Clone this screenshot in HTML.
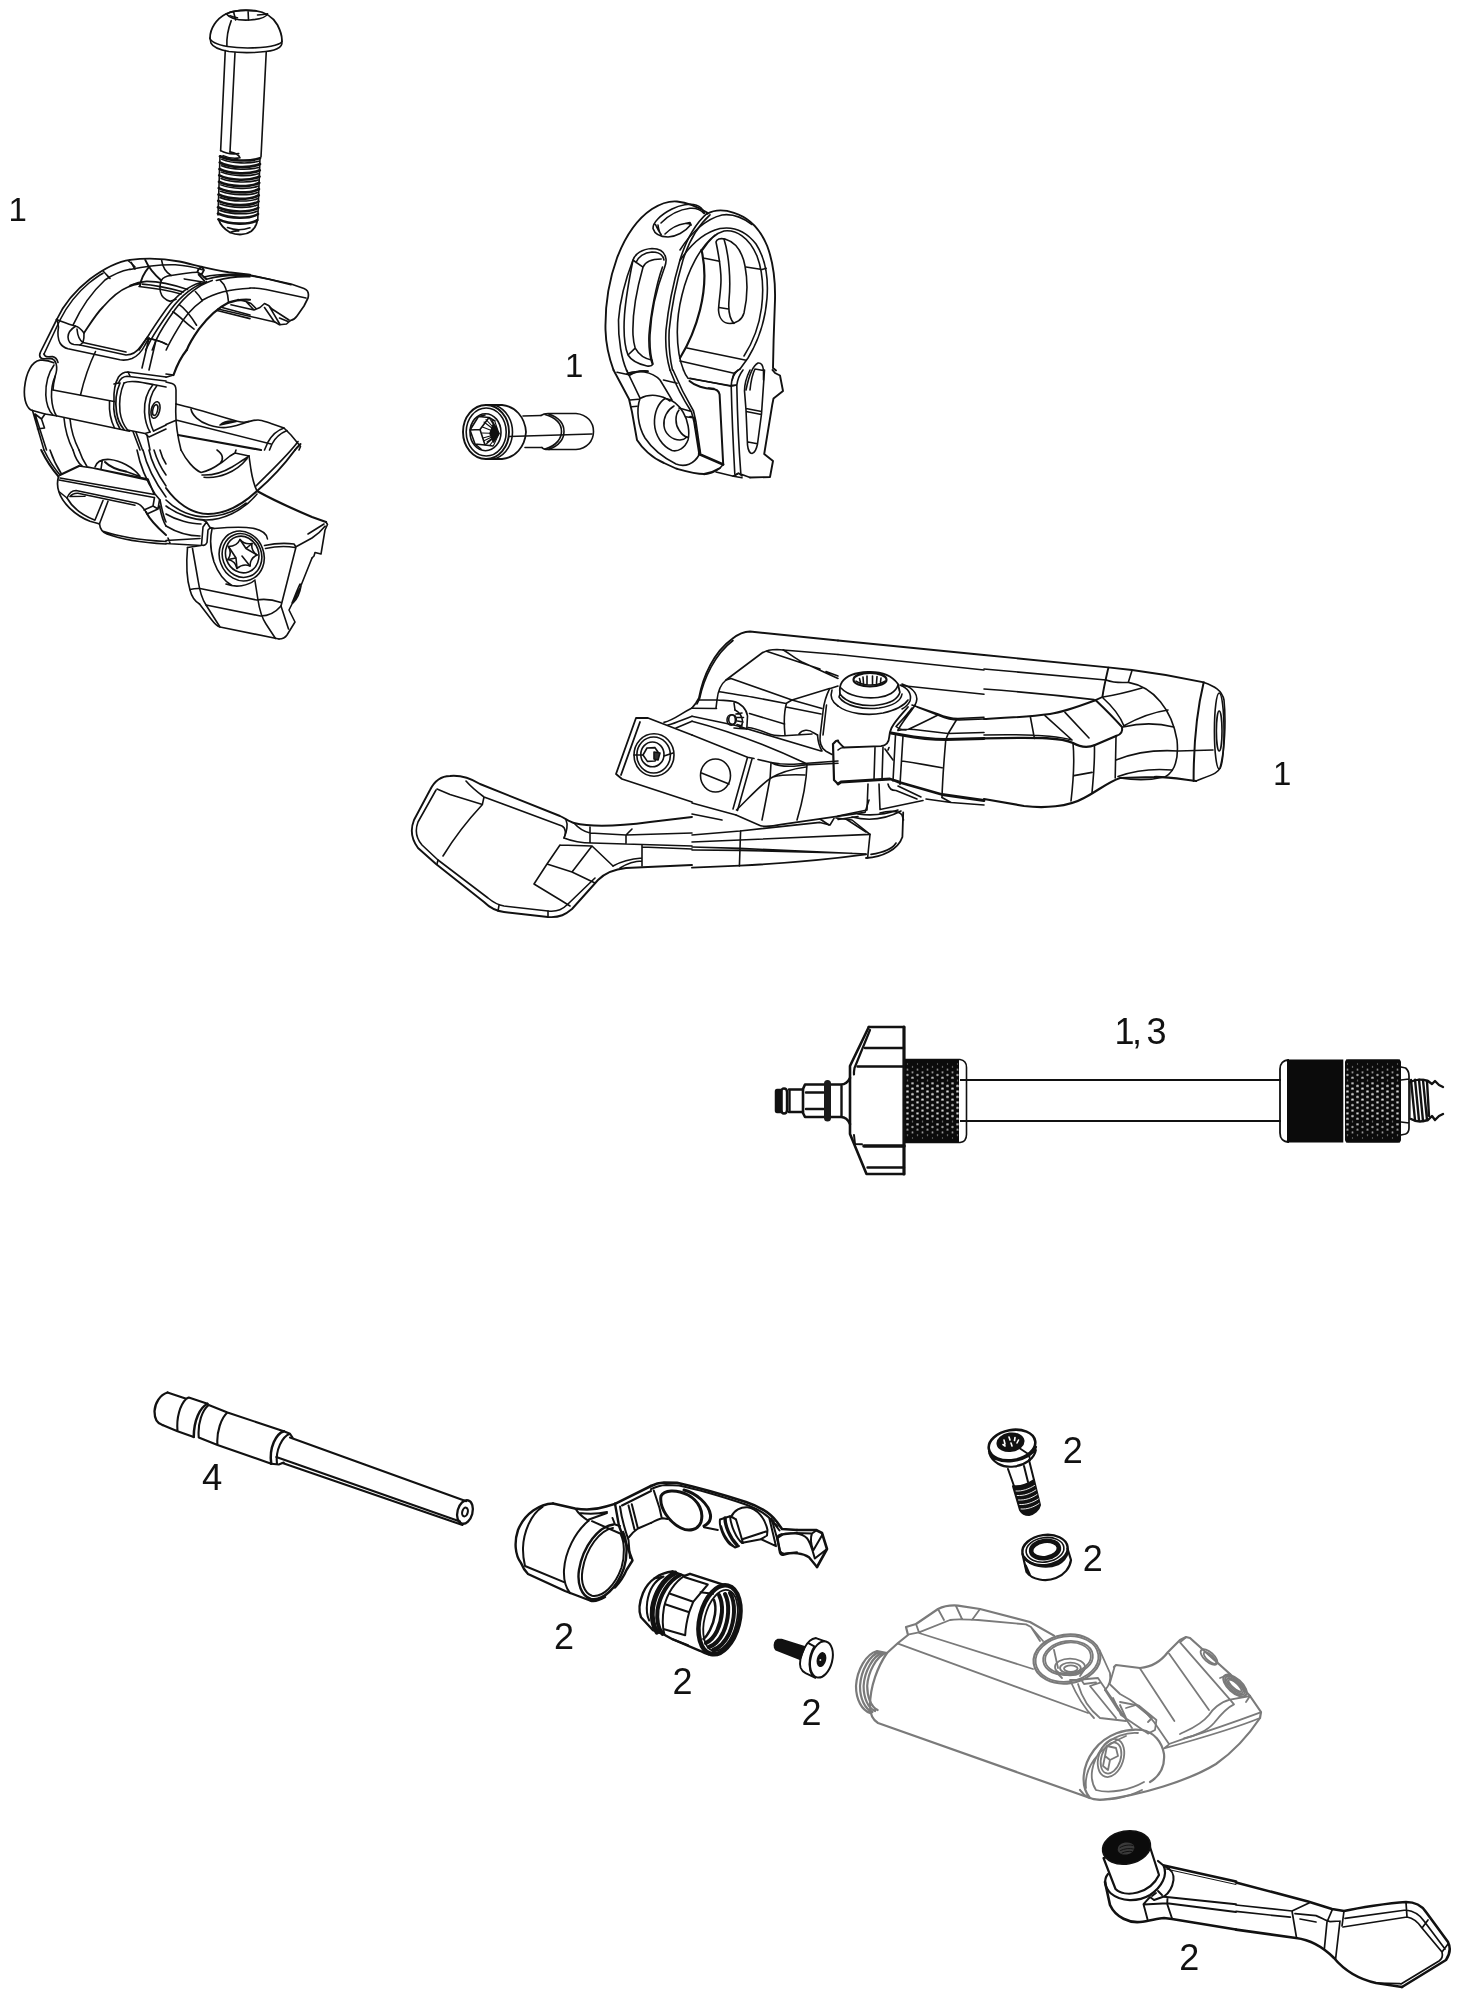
<!DOCTYPE html>
<html lang="en"><head><meta charset="utf-8"><title>Exploded view</title>
<style>
html,body{margin:0;padding:0;background:#fff;}
body{width:1460px;height:2000px;overflow:hidden;}
svg{display:block;}
.k{fill:none;stroke:#111;stroke-width:1.6;vector-effect:non-scaling-stroke;stroke-linecap:round;stroke-linejoin:round;}
.g{fill:none;stroke:#7a7a7a;stroke-width:1.8;vector-effect:non-scaling-stroke;stroke-linecap:round;stroke-linejoin:round;}
.k *,.g *{vector-effect:non-scaling-stroke;}
text{font-family:"Liberation Sans",sans-serif;fill:#111;}
</style></head><body>
<svg width="1460" height="2000" viewBox="0 0 1460 2000">
<rect width="1460" height="2000" fill="#fff"/>
<!-- 00_labels -->
<g class="lbl" style="filter:grayscale(1)">
<text x="8.6" y="220.5" font-size="33">1</text>
<text x="565.1" y="377" font-size="33">1</text>
<text x="1273.1" y="785" font-size="33">1</text>
<text x="1114.6" y="1044" font-size="36" textLength="52" lengthAdjust="spacing">1, 3</text>
<text x="201.9" y="1490" font-size="36.5">4</text>
<text x="554" y="1649.2" font-size="36">2</text>
<text x="672.5" y="1694.2" font-size="36">2</text>
<text x="801.5" y="1725" font-size="36">2</text>
<text x="1062.7" y="1462.5" font-size="36">2</text>
<text x="1082.7" y="1570.5" font-size="36">2</text>
<text x="1179.2" y="1969.5" font-size="36">2</text>
</g>
<!-- 10_clampA -->
<g class="k" transform="translate(20,250) scale(0.1)">
<path d="M205,1075 C193,1060 193,1045 205,1020 L370,690 C440,540 560,400 700,290 C850,180 1000,112 1100,99" style="stroke-width:1.7"/>
<path d="M240,1040 L400,700 C470,560 570,430 690,330 C740,290 780,260 830,232"/>
<path d="M205,1075 C215,1088 230,1090 250,1088 L300,1084 C335,1086 352,1105 362,1140 C372,1180 368,1215 352,1260 C340,1310 332,1350 330,1400"/>
<path d="M240,1040 C245,1060 260,1068 280,1068 L325,1066 C355,1072 372,1092 380,1125"/>
<path d="M338,1128 C290,1105 240,1098 200,1102 C120,1115 60,1220 45,1380 C35,1500 70,1590 125,1605" style="stroke-width:1.7"/>
<path d="M125,1605 L250,1640 L345,1655"/>
<path d="M340,1150 C290,1220 255,1330 258,1450 C262,1540 290,1610 330,1652"/>
<path d="M352,1260 C322,1330 312,1400 315,1470 C320,1560 340,1620 365,1660"/>
<path d="M330,1400 L940,1515"/>
<path d="M350,1655 L1095,1812"/>
<path d="M755,1015 C700,1130 640,1300 605,1450"/>
<path d="M365,695 C378,720 386,740 385,770 C375,830 375,880 400,930 C420,965 450,980 480,988 L1000,1098 C1040,1105 1080,1100 1120,1085 C1180,1060 1220,1010 1250,950 L1290,880"/>
<path d="M555,762 C510,790 480,830 480,870 C482,910 500,940 540,945 L600,950 L1060,1050 C1120,1050 1170,1020 1210,960 L1275,870"/>
<path d="M365,695 C420,715 480,740 555,762" style="stroke-width:1.7"/>
<path d="M555,762 C590,765 610,790 640,830 M570,790 C575,850 590,900 630,925 M640,830 C642,870 638,900 630,925 M600,950 L630,925 L1060,1020" />
<path d="M530,752 C600,600 720,420 850,300 C950,230 1030,205 1100,192"/>
<path d="M640,830 C700,740 760,640 830,570 C900,490 980,410 1080,370 C1120,350 1160,340 1200,335" style="stroke-width:1.8"/>
<path d="M835,215 C860,240 880,265 900,285 M1085,110 C1110,130 1135,150 1150,170"/>
<path d="M1275,885 C1340,890 1400,910 1460,940 M1290,880 L1220,1180 M1360,900 L1290,1200"/>
<!-- right knuckle -->
<path d="M940,1515 C935,1420 950,1330 985,1270 C1010,1235 1040,1220 1080,1220 L1460,1270"/>
<path d="M985,1330 C1000,1290 1030,1265 1070,1262 L1460,1310"/>
<path d="M940,1340 L985,1330 M1080,1220 L1100,1260"/>
<path d="M895,1515 C890,1600 905,1700 945,1780 M940,1515 C930,1600 950,1700 1000,1790" />
<path d="M1000,1330 C960,1420 950,1520 965,1620 C975,1690 1000,1750 1040,1795" style="stroke-width:1.7"/>
<path d="M1040,1330 C1000,1420 990,1520 1000,1620 C1010,1690 1035,1750 1075,1800"/>
<path d="M1040,1330 C1100,1300 1200,1320 1330,1345 L1460,1370"/>
<path d="M1330,1345 C1270,1420 1240,1520 1245,1620 C1250,1700 1270,1770 1300,1820"/>
<path d="M1370,1355 C1310,1430 1285,1530 1290,1630 C1295,1700 1310,1760 1335,1810"/>
<path d="M1075,1800 L1250,1835 L1300,1820 M1250,1835 L1290,1870 L1460,1790 M1335,1810 L1460,1750"/>
<ellipse cx="1355" cy="1600" rx="42" ry="85" transform="rotate(14 1355 1600)"/>
<ellipse cx="1352" cy="1600" rx="24" ry="55" transform="rotate(14 1352 1600)"/>
<!-- lower-left going down -->
<path d="M125,1605 L240,2000 M150,1640 L265,2000 M250,1640 L215,1690 L150,1640 M215,1690 L245,1780 L175,1790"/>
<path d="M440,1680 C450,1800 480,1900 530,2000 M500,1690 C510,1800 540,1900 590,2000"/>
<path d="M1130,1815 L1200,2000 M1160,1822 L1225,2000 M1270,1850 L1300,2000"/>
</g>
<!-- 11_clampB -->
<g class="k" transform="translate(166,250) scale(0.1)">
<path d="M840,250 L1000,285 L1250,340 L1380,385 C1420,400 1430,440 1420,480 L1380,560 L1310,660 C1290,690 1270,700 1245,705" style="stroke-width:1.7"/>
<path d="M1245,705 L1205,740 L1135,748 L1085,718"/>
<path d="M840,258 C900,265 1050,295 1250,348"/>
<path d="M840,380 C900,378 950,386 1000,395 L1400,480"/>
<path d="M75,1250 C110,1150 150,1070 207,1000" style="stroke-width:2.2"/>
<path d="M0,1240 L75,1250 L0,1272"/>
<path d="M520,590 L1085,720 M650,548 L880,600 M720,495 L800,515 L880,600 L940,575 L985,535 L1030,558 L1140,745 M800,515 L850,535 L905,590 M985,575 L1085,720 M1030,558 L1060,590 L1230,700 M1135,680 L1220,715"/>
<!-- lower jaw top -->
<path d="M0,1320 L60,1335 C90,1345 100,1365 100,1400 L100,1540"/>
<path d="M100,1540 C250,1575 400,1620 600,1680 C680,1705 740,1722 780,1722 C830,1720 870,1700 920,1700 C960,1700 1000,1720 1050,1735 L1180,1780 L1250,1850 L1345,1965 L1330,2000"/>
<path d="M250,1590 C260,1650 330,1720 430,1750 C500,1770 560,1780 600,1775 C680,1765 760,1740 830,1715"/>
<path d="M540,1750 C580,1715 640,1705 700,1715 C650,1725 590,1740 540,1750Z" style="fill:#111"/>
<path d="M100,1540 C92,1650 100,1800 150,2000 M0,1745 L95,1705 M100,1700 L1050,1940"/>
<path d="M120,1850 L950,2000" style="stroke-width:2.2"/>
<path d="M1180,1780 C1120,1800 1060,1850 1020,1920 L985,2000 M1210,1805 C1150,1830 1090,1880 1060,1940 L1035,2000"/>
</g>
<!-- 12_clampC -->
<g class="k" transform="translate(20,450) scale(0.1)">
<path d="M212,0 C260,100 320,190 385,265" style="stroke-width:2"/>
<path d="M240,0 C285,95 340,180 400,250 M300,0 C330,90 370,170 415,240 M530,0 C550,70 580,130 620,160 M590,0 C610,60 640,120 670,165"/>
<path d="M400,250 L590,160" style="stroke-width:2"/>
<path d="M590,160 L760,185 L1280,290 L1340,440 M400,280 L1345,445 M390,300 L1340,475 M680,170 L1270,300"/>
<path d="M385,265 C370,320 375,380 390,420 C420,520 540,650 700,712 L790,738" style="stroke-width:1.7"/>
<path d="M470,480 C490,430 520,405 560,405 L1160,530 C1200,540 1230,570 1260,620"/>
<path d="M500,465 C520,438 545,430 580,432 L1150,552 M395,420 L470,480 C520,570 620,650 745,700 M500,465 L650,462"/>
<path d="M750,170 C770,110 830,90 900,95 C1000,105 1130,170 1200,262 M822,108 L810,192 M1060,215 L1200,265"/>
<path d="M850,120 C900,170 980,200 1060,215" style="stroke-width:2"/>
<path d="M830,505 L750,700 M880,512 L795,738"/>
<path d="M795,738 C800,790 820,820 870,840 C1000,890 1200,925 1460,940 M830,812 C1000,872 1250,902 1460,915"/>
<path d="M1260,620 C1300,700 1380,780 1460,850" style="stroke-width:2"/>
<path d="M1240,600 L1330,560 L1345,475 M1270,640 L1380,590 L1395,500 M1330,560 L1380,590"/>
<path d="M1170,0 C1200,150 1260,300 1350,440 L1400,500 M1230,0 C1260,130 1320,280 1460,470 M1290,0 C1310,100 1370,230 1460,360 M1340,0 C1370,100 1410,180 1460,250 M1400,0 C1415,60 1435,100 1460,140"/>
<path d="M1400,500 C1420,600 1440,680 1460,720 M1395,560 C1410,640 1435,720 1460,760"/>
</g>
<!-- 13_clampD -->
<g class="k" transform="translate(166,450) scale(0.1)">
<path d="M150,0 C200,100 280,195 350,225 C450,210 560,130 640,60 L690,30 L830,60 M690,30 L700,0 M510,0 C570,40 580,95 540,135 C480,180 420,210 350,225"/>
<path d="M830,60 L850,200 C865,290 885,360 910,410"/>
<path d="M360,250 C450,255 560,230 660,170 C730,125 790,90 830,60 M380,272 C520,290 700,225 812,85"/>
<path d="M0,380 C100,520 250,640 420,640 C600,640 750,560 910,410 C1050,290 1180,150 1290,0" style="stroke-width:2"/>
<path d="M0,560 C120,650 280,700 400,700 C560,700 760,620 910,440 M0,500 C110,610 270,672 410,668 C560,660 700,610 800,530"/>
<path d="M0,640 C100,700 250,740 350,740 M0,760 C100,820 220,860 340,860 M0,905 L340,885 M0,935 L350,955 M20,880 L40,930 M215,975 L350,955"/>
<path d="M910,410 C1000,460 1200,560 1460,670 L1600,720" style="stroke-width:2.2"/>
<path d="M1290,0 C1310,-25 1330,-45 1345,-60" style="stroke-width:2"/>
<path d="M900,360 C1090,170 1240,30 1320,-85"/>
<path d="M370,700 L405,720 L370,770 L355,950 C380,960 400,950 410,925 L420,800 L445,775 L480,785 M405,720 L440,775"/>
<path d="M440,780 L480,785 C600,775 760,765 870,782 C950,800 1010,840 1015,890"/>
<path d="M985,955 C1080,935 1200,930 1280,940 L1300,970 L1150,1560 M995,985 C1090,965 1200,960 1290,975 M1300,968 L1460,880 M1580,740 L1420,840 M1460,880 C1520,840 1560,800 1590,762 M1600,720 L1615,745 L1590,800 L1550,1040 L1490,1025 L1480,1060 L1460,1080"/>
<path d="M1460,1080 L1340,1380 L1230,1600 L1290,1720 L1210,1850 C1190,1880 1160,1890 1130,1890 M1150,1560 L1225,1790 M1340,1340 C1310,1400 1290,1460 1260,1530 M1350,1360 C1340,1420 1310,1490 1270,1530"/>
<path d="M1130,1890 L540,1770 C500,1760 480,1730 450,1690 L335,1540"/>
<path d="M215,975 C200,1150 210,1300 240,1400 C260,1480 300,1520 335,1540 M265,985 L320,1300 C335,1400 360,1490 400,1550 L540,1770"/>
<path d="M240,1395 C280,1385 310,1383 340,1385 L905,1500 C960,1490 1050,1490 1150,1525 M400,1550 L945,1660 C1020,1660 1090,1630 1150,1560"/>
<path d="M890,1310 L920,1500 C935,1600 960,1680 1000,1740 L1095,1885"/>
<path d="M460,790 C435,900 445,1010 480,1120 C520,1230 580,1310 660,1355 M600,1340 C700,1380 820,1360 890,1300"/>
<ellipse cx="757" cy="1060" rx="222" ry="252" transform="rotate(-20 757 1060)"/>
<ellipse cx="760" cy="1055" rx="195" ry="222" transform="rotate(-20 760 1055)"/>
<ellipse cx="762" cy="1045" rx="165" ry="185" transform="rotate(-20 762 1045)"/>
<path d="M740,895 C770,930 810,945 860,935 C850,985 870,1020 910,1050 C860,1075 840,1110 840,1160 C790,1140 750,1150 710,1185 C700,1135 670,1105 620,1095 C650,1050 650,1010 625,965 C680,965 720,940 740,895Z"/>
<path d="M740,895 L800,985 M860,935 L800,985 M910,1050 L800,985 M625,965 L700,1080 M620,1095 L700,1080 M710,1185 L700,1080 M840,1160 L760,1060"/>
</g>
<!-- 14_clampY -->
<g class="k" transform="translate(130,250) scale(0.08219)">
<path d="M0,120 C200,95 400,100 600,140 C800,185 1000,240 1200,270 L1460,300" style="stroke-width:1.9"/>
<path d="M0,238 C150,205 350,175 550,180 C700,190 800,215 880,240"/>
<path d="M0,432 C60,405 130,385 200,382 C350,380 520,420 700,480 M110,445 C250,460 450,490 620,535 M150,415 C300,425 480,465 650,510"/>
<path d="M185,120 C220,200 300,300 380,372 M225,215 C170,280 135,350 120,440" style="stroke-width:1.9"/>
<path d="M380,372 C365,420 360,470 370,510 C385,570 430,610 490,625 L560,600 M385,125 C395,200 440,270 500,310 M15,150 C30,180 45,210 60,232"/>
<path d="M380,372 C400,335 440,315 500,310 C600,292 720,272 820,270"/>
<path d="M820,270 L835,230 L875,205 L900,245 L870,300 L820,270 M870,300 L930,355 M835,300 L905,375" style="stroke-width:1.9"/>
<path d="M660,352 L905,392"/>
<path d="M930,355 C1100,310 1300,300 1460,310 M1050,370 C1200,330 1350,320 1460,325 M900,330 C1050,290 1250,290 1460,302"/>
<path d="M860,395 C700,440 560,560 440,720 C340,860 260,980 200,1080 L110,1217 M930,385 C760,440 620,560 500,720 C400,860 310,990 250,1100 L190,1217 M1000,370 C820,430 670,560 550,720 C450,860 370,980 320,1090 L270,1217"/>
<path d="M1100,372 C1160,420 1190,520 1200,640 M880,612 C1000,540 1200,475 1460,465 M795,505 C830,540 860,580 880,615 M600,665 C680,720 750,820 810,915 M520,752 C600,800 690,900 780,962"/>
<path d="M880,615 C760,700 650,830 580,960 C520,1060 470,1150 440,1217 M200,1080 C290,1085 380,1110 450,1150"/>
<path d="M1460,605 C1380,600 1280,610 1200,640 C1080,700 940,830 840,960 C770,1060 720,1140 690,1217" style="stroke-width:2.2"/>
<path d="M1060,735 L1460,835 M1120,700 L1460,790"/>
</g>
<!-- 20_bolt1 -->
<g class="k" transform="translate(180,0) scale(0.125)">
<!-- head -->
<path d="M240,305 C240,230 290,150 370,110 C430,85 520,75 600,85 C680,95 740,130 780,200 C805,250 818,300 815,330" style="stroke-width:1.8"/>
<path d="M240,305 C245,330 290,355 380,372 C500,392 680,385 760,362 C800,350 815,340 815,330"/>
<path d="M242,315 L248,345 C262,375 312,398 392,412 C512,428 682,420 752,400 C792,388 810,372 815,350 L815,330"/>
<path d="M370,110 C400,150 470,165 560,160 C640,155 690,135 700,110 M385,105 C420,85 520,78 610,88"/>
<path d="M545,95 L548,160 M430,100 L445,160 M410,165 C385,230 372,300 375,370"/>
<path d="M620,120 C650,118 680,115 695,112 M400,125 C420,135 440,140 460,142"/>
<!-- shaft -->
<path d="M362,405 L325,1205 M690,415 L648,1255 M440,420 L400,1215"/>
<!-- thread -->
<path d="M325,1205 C360,1225 420,1235 470,1228 M400,1215 C440,1222 470,1240 480,1262 M345,1245 C390,1265 440,1270 480,1262"/>
<g style="stroke-width:2.6">
<path d="M320,1250 C400,1290 560,1295 640,1265"/>
<path d="M318,1300 C400,1345 560,1348 640,1312"/>
<path d="M316,1352 C400,1395 560,1398 638,1362"/>
<path d="M314,1403 C400,1446 560,1449 636,1412"/>
<path d="M312,1454 C400,1497 560,1500 634,1462"/>
<path d="M310,1505 C400,1548 560,1551 632,1512"/>
<path d="M308,1556 C400,1599 560,1602 630,1562"/>
<path d="M306,1607 C400,1650 560,1653 628,1612"/>
<path d="M304,1658 C400,1701 560,1704 626,1662"/>
<path d="M304,1708 C400,1751 560,1754 624,1712"/>
<path d="M308,1755 C400,1798 550,1800 618,1762"/>
</g>
<path d="M320,1250 L304,1720 M640,1265 L622,1760 M335,1275 C420,1310 560,1310 630,1290 M333,1326 C420,1361 560,1361 628,1340 M331,1377 C420,1412 560,1412 626,1390 M329,1428 C420,1463 560,1463 624,1440 M327,1479 C420,1514 560,1514 622,1490 M325,1530 C420,1565 560,1565 620,1540 M323,1581 C420,1616 560,1616 618,1590 M321,1632 C420,1667 560,1667 616,1640 M319,1683 C420,1718 560,1718 614,1690"/>
<path d="M308,1755 C320,1790 350,1830 400,1860 C460,1885 530,1880 570,1850 C600,1825 615,1795 618,1762" style="stroke-width:1.8"/>
<path d="M380,1820 C430,1840 500,1842 560,1822 M400,1860 C420,1850 440,1845 470,1848"/>
</g>
<!-- 30_ring -->
<g class="k" transform="translate(600,190) scale(0.1)">
<!-- left silhouette & top -->
<path d="M135,1800 C80,1650 58,1520 55,1400 C50,1150 90,900 170,680 C250,470 370,290 520,190 C600,140 690,108 770,115 C870,125 980,170 1075,228" style="stroke-width:1.9"/>
<path d="M1070,240 C1140,198 1240,195 1340,228 C1490,275 1600,385 1672,560 C1732,720 1755,900 1750,1100 L1736,1500 L1730,1780 L1760,1805" style="stroke-width:1.9"/>
<!-- long slot -->
<path d="M330,700 C350,640 420,590 520,585 C600,585 650,620 660,690 C665,730 650,760 640,790 C560,1000 510,1250 500,1450 C495,1600 510,1680 530,1740 C520,1760 500,1765 470,1760 C380,1740 310,1700 280,1650 C240,1550 235,1400 245,1250 C260,1050 300,850 330,700Z"/>
<path d="M360,725 C380,670 440,625 520,620 C590,620 630,650 640,700 M430,772 C450,720 520,690 612,690 M335,705 L430,772 C365,1000 322,1250 330,1450 C335,1520 345,1560 352,1582 L285,1645 M352,1582 C390,1650 450,1690 522,1702 M625,770 C560,950 505,1250 490,1450 C485,1580 500,1680 525,1745"/>
<path d="M330,700 C260,880 200,1100 185,1300 C180,1500 220,1700 265,1800"/>
<!-- top slot -->
<path d="M530,385 C525,330 600,250 720,190 C800,150 900,130 965,152 C1005,165 1030,195 1045,232 M530,385 C545,435 600,468 680,470 C760,468 850,420 905,350 M610,330 C690,250 800,195 900,183 C960,178 1010,200 1040,235 M650,440 C700,390 780,345 850,335 C880,333 900,340 912,350 M555,345 C575,390 590,420 612,445 M580,350 C585,390 595,425 612,445 M850,335 L900,325 L912,350"/>
<!-- front ring outer-left edges -->
<path d="M1075,228 C960,330 860,500 800,700 C730,940 680,1200 660,1400 C650,1560 670,1700 700,1800"/>
<path d="M1100,248 C985,350 890,510 830,700 C760,940 712,1200 692,1400 C684,1550 700,1690 725,1800"/>
<path d="M800,600 C900,440 1050,290 1220,250 C1320,235 1420,270 1520,345"/>
<!-- bore edge & inner lines -->
<path d="M800,705 C910,540 1050,420 1200,385 C1320,365 1450,400 1560,540 C1650,680 1685,880 1670,1080 C1655,1280 1590,1500 1480,1680 L1400,1790"/>
<path d="M1025,600 C1090,500 1160,430 1240,410 C1360,395 1490,470 1570,660 C1630,820 1638,1000 1615,1180 C1590,1370 1530,1520 1440,1660 M1460,770 L1620,795 L1662,782"/>
<path d="M1150,450 C1000,570 880,800 820,1050 C770,1250 760,1450 790,1640 C800,1700 815,1750 835,1800"/>
<path d="M1015,600 C1062,800 1050,1000 1000,1200 C950,1400 880,1550 800,1680" style="stroke-width:2.2"/>
<!-- right slot -->
<path d="M1160,520 C1165,490 1200,480 1250,490 C1350,520 1420,600 1450,760 C1480,920 1470,1100 1440,1230 C1420,1300 1360,1335 1300,1335 C1230,1335 1190,1280 1185,1200 C1190,1100 1210,1000 1210,900 C1210,760 1185,640 1160,520Z"/>
<path d="M1240,490 C1290,650 1310,900 1290,1100 C1282,1200 1295,1290 1340,1333 M1190,1175 L1285,1190 M1045,682 L1195,712"/>
<!-- block top lines -->
<path d="M870,1580 L1462,1702 M800,1710 L1340,1832 L1400,1790 M1340,1832 C1330,1860 1325,1880 1322,1900 M900,1882 L1312,1962"/>
<path d="M1460,2000 C1480,1900 1520,1760 1580,1730 C1610,1725 1630,1750 1635,1800 L1635,1900 M1550,1790 L1635,1805 M1500,2000 C1505,1950 1520,1850 1550,1790"/>
<!-- bottom-left misc -->
<path d="M170,1822 L300,1850 C350,1820 420,1805 480,1815 M265,1800 L290,1850"/>
</g>
<g class="k" transform="translate(600,370) scale(0.1)">
<path d="M135,0 L290,290 L320,420 L370,700 C420,780 520,880 640,930 L760,985 C850,1010 950,1040 1040,1040 C1100,1030 1150,1010 1190,985" style="stroke-width:1.9"/>
<path d="M265,0 L400,282 M300,300 L385,292 M318,368 L372,362"/>
<path d="M700,310 C620,250 500,230 400,285 C360,400 380,560 450,680 C530,800 640,880 760,940 C850,975 940,940 990,850"/>
<path d="M650,285 C580,330 540,430 545,540 C550,650 620,760 720,805 C780,820 850,780 880,700 C900,620 880,500 830,420 C790,350 720,290 650,285Z M740,360 C670,400 630,480 640,560 C650,640 720,700 800,700 C830,698 850,690 870,670 M790,400 C750,450 750,540 790,600 C820,650 860,670 880,672"/>
<path d="M700,0 C750,130 850,320 915,420 L940,520 L990,835 M730,0 C780,120 870,300 935,410 L960,520 L1005,830 M790,380 L905,412 M855,468 L932,478 M635,100 L770,132"/>
<path d="M270,35 C370,-5 520,15 600,100 C650,180 690,250 720,300 M480,10 C400,5 330,20 290,50"/>
<path d="M835,0 C850,40 865,65 880,82 L1325,160 L1365,150"/>
<path d="M895,110 C950,160 1050,188 1120,190 C1165,190 1188,205 1196,245 L1232,945" style="stroke-width:2"/>
<path d="M990,840 L1232,945" style="stroke-width:2.5"/>
<path d="M1232,945 L1200,980 M1160,1020 L1335,1062 L1380,1035 M1335,1062 L1420,1078"/>
</g>
<g class="k" transform="translate(690,370) scale(0.1)">
<path d="M825,0 L850,30 L900,55 L930,210 L835,285 L822,350 L742,840 L830,910 L800,1070 L600,1075" style="stroke-width:1.9"/>
<path d="M600,1075 L485,1032 L430,1062 M485,1032 L520,1060"/>
<path d="M412,152 C420,500 435,800 448,1040 M468,152 C475,500 490,800 508,1032 M412,152 C415,100 440,40 480,0 M468,152 C475,90 500,40 530,0 M412,152 L468,152"/>
<path d="M600,0 C570,60 545,130 545,210 L560,400 L575,750 C580,800 600,835 620,835 C645,830 665,790 675,740 L715,440 L745,0 M560,385 L715,415 M562,415 L713,445 M580,720 L675,738"/>
<path d="M300,982 C250,1020 190,1040 140,1045 M40,480 L100,832 M0,465 L45,478 M185,180 L240,186"/>
</g>
<!-- 31_smallbolt -->
<g class="k" transform="translate(455,395) scale(0.1)">
<ellipse cx="310" cy="370" rx="230" ry="270" style="stroke-width:1.9"/>
<ellipse cx="312" cy="370" rx="200" ry="240"/>
<ellipse cx="305" cy="372" rx="155" ry="185"/>
<path d="M310,100 L470,100 C600,110 700,220 710,370 C700,520 600,630 470,640 L310,640" style="stroke-width:1.8"/>
<path d="M410,105 C520,150 575,260 575,370 C575,480 520,590 410,635"/>
<path d="M150,350 L235,215 L340,225 M150,350 L200,490 L300,500 M150,350 L250,345 L340,225 M250,345 L300,500 M340,225 L400,260 M300,500 L380,510 M235,215 L300,200 M200,490 L260,540"/>
<path d="M440,385 L340,225 M440,385 L300,500 M440,385 L290,270 M440,385 L275,320 M440,385 L270,380 M440,385 L280,430 M440,385 L320,470 M440,385 L370,250 M440,385 L350,500 M440,385 L400,270 M440,385 L385,505 M440,385 L310,245 M440,385 L285,460" style="stroke-width:1.1"/>
<path d="M440,385 L380,300 L350,385 L385,470Z" style="fill:#111"/>
<path d="M680,210 L860,205 M700,525 L870,525 M540,415 L1370,390"/>
<path d="M860,205 C880,190 900,185 930,185 L1210,185 C1320,195 1385,270 1385,365 C1385,460 1320,535 1210,545 L930,545 C900,545 880,540 870,525"/>
<path d="M940,190 C1050,230 1090,300 1090,365 C1090,430 1050,500 940,545 M900,195 C1020,230 1065,300 1065,365 C1065,430 1020,505 900,540"/>
</g>
<!-- 40_leverH -->
<g class="k" transform="translate(400,600) scale(0.2)">
<path d="M1460,1085 L1250,1110 C1100,1130 950,1135 870,1115 C850,1110 830,1095 800,1080 L400,920 C350,890 300,875 250,880 C200,880 170,910 150,950 L70,1100 C50,1150 60,1200 90,1240 L180,1320 L420,1510 C450,1540 480,1555 520,1560 L740,1585 C800,1590 830,1570 860,1545 L990,1400 C1030,1360 1080,1345 1130,1340 L1460,1325" style="stroke-width:1.9"/>
<path d="M180,950 L90,1110 C75,1150 80,1190 110,1225 L190,1300 L440,1490 C470,1515 490,1525 520,1530 L740,1555 C790,1560 815,1545 840,1520 L975,1390"/>
<path d="M330,905 C360,940 400,970 420,985 L810,1130 C830,1140 830,1170 820,1190 M185,945 L250,972 L412,1022 L420,985 M410,1025 C340,1100 270,1190 215,1280"/>
<path d="M830,1100 C840,1120 835,1160 820,1190 C870,1210 920,1215 960,1215 L1460,1230 M950,1135 L950,1215 M1160,1145 L1130,1175 L1130,1215 M1130,1175 L1460,1165 M870,1115 C900,1150 930,1160 950,1165 L1130,1175"/>
<path d="M800,1225 L735,1320 L670,1420 L810,1505 L850,1530 M735,1320 L860,1360 L975,1415 M860,1360 L960,1230 L1065,1330 M800,1225 L960,1230 M185,1320 L190,1300 M495,1527 L490,1555 M740,1555 L740,1585"/>
<path d="M1065,1330 C1100,1310 1150,1295 1210,1290 M1210,1225 L1210,1330 M1210,1235 L1460,1245 M1100,1340 C1140,1315 1180,1305 1210,1305"/>
<!-- clamp block -->
<path d="M1460,675 L1240,590 L1180,590 L1080,870 L1110,895 L1460,1010 M1200,610 L1105,875" style="stroke-width:1.8"/>
<path d="M1320,612 C1370,600 1400,570 1460,540 M1340,625 C1380,615 1420,595 1460,581 M1380,640 L1460,606"/>
<ellipse cx="1270" cy="775" rx="100" ry="106"/>
<ellipse cx="1268" cy="775" rx="84" ry="90"/>
<ellipse cx="1262" cy="772" rx="58" ry="62"/>
<path d="M1215,775 L1235,740 L1275,738 L1295,770 L1275,805 L1237,807Z M1275,738 L1290,760 M1295,770 L1275,790"/>
<path d="M1270,760 L1300,765 L1290,800 L1270,795Z" style="fill:#333"/>
<path d="M1170,775 L1215,775 M1320,780 L1365,765"/>
</g>
<!-- 41_leverJ -->
<g class="k" transform="translate(692,620) scale(0.1)">
<path d="M0,880 L40,830 L70,780 C110,560 220,320 400,190 C450,150 510,115 580,115 L1460,205" style="stroke-width:1.9"/>
<path d="M50,840 L75,790 C120,580 230,340 410,205"/>
<path d="M240,880 L250,800 C260,700 290,640 340,600 L700,330 C740,305 790,295 850,295 L1460,345"/>
<path d="M745,312 L1280,490 M1340,515 L1460,560 M910,298 C980,340 1040,390 1100,420 L1460,585"/>
<path d="M340,600 L390,585 L1000,800 L1375,685 M275,718 C400,740 520,755 600,770 L940,835 L1000,800 M945,832 C925,900 915,1000 930,1150 M1000,800 L1300,885 M940,870 L1290,940"/>
<path d="M70,800 L250,800 C330,805 380,805 410,812 C490,830 545,890 555,960 L548,1090 M0,882 L245,885 M420,830 L430,900"/>
<ellipse cx="392" cy="1000" rx="42" ry="52"/>
<ellipse cx="405" cy="995" rx="38" ry="48"/>
<path d="M430,900 C470,920 500,960 505,1010 C505,1050 490,1075 470,1085 M440,940 L500,930 M450,975 L515,975 M455,1010 L510,1020 M450,1045 L500,1060 M420,1080 L470,1085 L548,1090"/>
<path d="M560,1075 C640,1085 700,1110 760,1135 C820,1160 900,1160 960,1155 L1200,1140 M575,935 L925,1040 M1070,1140 C1100,1095 1170,1090 1210,1125 L1255,1150"/>
<path d="M0,962 L440,1055 L1290,1310 M0,1012 C300,1090 700,1230 1130,1430 M0,1150 L555,1372 L620,1385 M660,1395 L790,1425"/>
<path d="M800,1430 C860,1465 950,1465 1020,1462 L1130,1450 L1460,1432 M790,1425 C860,1440 950,1445 1020,1442 L1460,1410"/>
<path d="M1255,1150 C1260,1220 1275,1270 1300,1310"/>
<path d="M1375,688 C1340,760 1320,830 1312,900 L1282,1150 C1272,1230 1292,1282 1340,1312 L1400,1345 M1345,850 L1310,1150 M1375,688 C1400,680 1430,670 1460,660 M1400,700 C1380,760 1400,820 1460,860"/>
<path d="M1460,1205 L1440,1210 L1410,1240 L1420,1600 L1460,1640" style="stroke-width:2.2"/>
<ellipse cx="235" cy="1555" rx="150" ry="165"/>
<path d="M95,1530 L370,1640"/>
<path d="M555,1375 L410,1890 M600,1390 L455,1905 M0,1830 L440,1950 M0,1940 L300,2000"/>
<path d="M445,1900 C560,1790 680,1650 790,1580 C880,1525 1000,1490 1140,1470 M800,1572 C900,1545 1020,1545 1130,1550"/>
<path d="M790,1428 L782,1570 C760,1700 730,1850 700,2000 M1150,1445 C1145,1600 1110,1800 1050,2000"/>
</g>
<!-- 42_leverK -->
<g class="k" transform="translate(838,620) scale(0.1)">
<path d="M0,205 L1460,350" style="stroke-width:1.9"/>
<path d="M0,345 L1460,500"/>
<ellipse cx="320" cy="597" rx="165" ry="68" style="stroke-width:2.2"/>
<path d="M180,612 C250,662 400,662 470,612 M250,570 L255,632 M290,560 L290,642 M345,560 L345,637 M390,565 L385,630 M215,585 L225,625 M430,580 L425,620"/>
<path d="M20,740 C15,700 20,650 40,620 C80,560 170,525 300,520 C430,515 540,560 600,640 L615,710" style="stroke-width:1.8"/>
<path d="M30,680 C100,760 260,790 400,775 C500,765 580,720 600,650 M20,740 C80,830 250,870 400,850 C520,835 600,790 620,720 M10,770 C70,860 250,900 410,880 C540,860 630,810 640,740 M10,770 L20,740"/>
<path d="M0,860 C100,940 300,960 450,930 C560,905 660,860 700,800 M620,650 C700,680 740,740 720,810 C700,850 660,880 640,890 M640,640 C760,680 820,760 770,850"/>
<path d="M700,870 C640,940 570,1010 535,1080 C520,1110 515,1140 512,1170 C510,1220 480,1255 430,1262 L60,1275 C40,1260 20,1235 0,1215" style="stroke-width:1.8"/>
<path d="M770,852 C720,930 650,1010 600,1100 M740,880 C690,950 630,1010 580,1065 M580,1065 C610,1090 640,1100 680,1100"/>
<path d="M630,655 L1460,742"/>
<path d="M740,850 L1000,940 C1080,975 1140,985 1200,985 L1460,972 M790,870 L1010,955 C1090,990 1150,1000 1210,1000 L1460,990"/>
<path d="M1000,950 C900,1000 800,1050 700,1095 M1190,990 L1105,1130 L1080,1190 M600,1105 C650,1095 700,1090 760,1095 L1100,1135 L1460,1125"/>
<path d="M530,1130 L640,1150 C800,1180 950,1195 1080,1195 L1460,1185" style="stroke-width:2.8"/>
<path d="M575,1150 L550,1610 M650,1160 L620,1645 M1078,1195 C1060,1400 1045,1600 1040,1775 M640,1410 C780,1430 920,1455 1040,1478"/>
<path d="M0,1300 C20,1280 40,1275 60,1275 M370,1275 L360,1600 M450,1270 L440,1600 M470,1290 L550,1400 M500,1300 L510,1275"/>
<path d="M0,1640 L30,1620 L520,1590 C560,1600 580,1610 620,1625 L1040,1745 L1460,1805" style="stroke-width:2.8"/>
<path d="M500,1640 C510,1690 540,1705 580,1705 L790,1790 M600,1660 L830,1770 M880,1790 L1130,1825 L1460,1850 M1040,1775 L1130,1825"/>
<path d="M850,1805 L420,1895 L410,1640 M300,1640 L290,1900 L0,1960 M420,1930 C520,1900 610,1910 640,1950 L655,2000 M0,1995 L200,1965"/>
</g>
<!-- 43_leverL -->
<g class="k" transform="translate(692,800) scale(0.2)">
<path d="M0,175 L240,155 L640,112 L690,125 L710,92 M720,90 L800,100 L890,172 M0,210 L240,200 L890,172 M0,235 L240,242 L870,270 M0,250 L240,252 L800,266"/>
<path d="M0,338 L240,328 C500,315 700,295 870,272" style="stroke-width:1.9"/>
<path d="M870,290 C950,285 1030,250 1052,185 L1056,62" style="stroke-width:1.8"/>
<path d="M895,272 C960,262 1005,240 1020,215 M243,155 L237,330 M890,172 L878,290"/>
<path d="M220,75 L340,128 M340,128 C370,138 410,130 450,122 L865,62 L885,0"/>
<path d="M640,95 L685,125 M770,95 L870,160 M800,85 C880,105 970,95 1045,55 M830,70 C900,80 960,75 1030,50"/>
</g>
<!-- 44_leverM -->
<g class="k" transform="translate(984,620) scale(0.2)">
<path d="M0,175 L620,237 L740,250 C860,265 1000,290 1100,312" style="stroke-width:1.9"/>
<path d="M1100,312 C1150,330 1190,350 1200,400 C1210,500 1205,650 1180,740 C1170,765 1150,770 1060,805"/>
<ellipse cx="1176" cy="555" rx="24" ry="190"/>
<ellipse cx="1176" cy="555" rx="14" ry="100"/>
<path d="M1098,314 C1065,450 1048,620 1048,805" style="stroke-width:2"/>
<path d="M1060,805 C980,795 900,782 850,785 L680,790 C620,810 560,860 500,890 C420,935 300,942 200,930 L0,895" style="stroke-width:2.2"/>
<path d="M0,245 L610,300 M0,345 C200,360 400,380 550,398"/>
<path d="M622,238 C610,290 598,340 592,385 L555,402" style="stroke-width:1.9"/>
<path d="M740,252 L722,310 M722,312 C850,335 940,450 965,600 C975,700 950,760 905,785 M610,300 C660,318 700,312 722,312"/>
<path d="M595,385 C660,375 720,360 790,340 M595,390 C640,430 680,480 700,530"/>
<path d="M560,402 C600,440 650,490 690,535 C695,560 680,575 660,580" style="stroke-width:2"/>
<path d="M555,402 C480,430 400,460 330,470 C220,485 100,490 0,495" style="stroke-width:2"/>
<path d="M232,485 L252,592 M305,478 L440,600 M405,462 L525,590 M0,575 C200,570 350,575 440,600"/>
<path d="M660,580 L555,625 C520,640 480,635 445,615 C390,590 300,585 0,592" style="stroke-width:2.4"/>
<path d="M445,615 C455,720 445,820 435,905 M552,625 C555,720 545,800 540,865 M660,585 L656,790 M450,778 L540,762"/>
<path d="M695,535 C780,515 870,515 948,535 M700,528 C770,490 850,460 920,450 M660,700 C760,660 860,648 970,655 L1145,650 M670,782 C760,750 850,742 940,750 M680,790 C760,802 840,800 900,785"/>
</g>
<!-- 50_hose -->
<defs><pattern id="kn" patternUnits="userSpaceOnUse" x="0" y="0" width="10" height="123"><rect width="10" height="123" fill="#0b0b0b"/><ellipse cx="2.50" cy="4.60" rx="0.65" ry="0.38" fill="#fff"/><ellipse cx="7.50" cy="7.33" rx="0.81" ry="0.48" fill="#fff"/><ellipse cx="2.50" cy="10.07" rx="0.97" ry="0.57" fill="#fff"/><ellipse cx="7.50" cy="12.80" rx="1.13" ry="0.66" fill="#fff"/><ellipse cx="2.50" cy="15.53" rx="1.29" ry="0.76" fill="#fff"/><ellipse cx="7.50" cy="18.27" rx="1.45" ry="0.85" fill="#fff"/><ellipse cx="2.50" cy="21.00" rx="0.80" ry="0.47" fill="#fff"/><ellipse cx="7.50" cy="23.73" rx="1.45" ry="0.85" fill="#fff"/><ellipse cx="2.50" cy="26.47" rx="1.45" ry="0.85" fill="#fff"/><ellipse cx="7.50" cy="29.20" rx="1.45" ry="0.85" fill="#fff"/><ellipse cx="2.50" cy="31.93" rx="1.45" ry="0.85" fill="#fff"/><ellipse cx="7.50" cy="34.67" rx="1.45" ry="0.85" fill="#fff"/><ellipse cx="2.50" cy="37.40" rx="1.45" ry="0.85" fill="#fff"/><ellipse cx="7.50" cy="40.13" rx="1.45" ry="0.85" fill="#fff"/><ellipse cx="2.50" cy="42.87" rx="1.45" ry="0.85" fill="#fff"/><ellipse cx="7.50" cy="45.60" rx="1.45" ry="0.85" fill="#fff"/><ellipse cx="2.50" cy="48.33" rx="1.45" ry="0.85" fill="#fff"/><ellipse cx="7.50" cy="51.07" rx="1.45" ry="0.85" fill="#fff"/><ellipse cx="2.50" cy="53.80" rx="1.45" ry="0.85" fill="#fff"/><ellipse cx="7.50" cy="56.53" rx="1.45" ry="0.85" fill="#fff"/><ellipse cx="2.50" cy="59.27" rx="1.45" ry="0.85" fill="#fff"/><ellipse cx="7.50" cy="62.00" rx="0.80" ry="0.47" fill="#fff"/><ellipse cx="2.50" cy="64.73" rx="1.45" ry="0.85" fill="#fff"/><ellipse cx="7.50" cy="67.47" rx="1.29" ry="0.76" fill="#fff"/><ellipse cx="2.50" cy="70.20" rx="1.13" ry="0.66" fill="#fff"/><ellipse cx="7.50" cy="72.93" rx="0.97" ry="0.57" fill="#fff"/><ellipse cx="2.50" cy="75.67" rx="0.81" ry="0.48" fill="#fff"/><ellipse cx="7.50" cy="78.40" rx="0.65" ry="0.38" fill="#fff"/></pattern></defs>
<g class="k" transform="translate(760,1030) scale(0.1)">
<path d="M1088,-30 L900,360 L900,1040 L1065,1440 L1440,1440" style="stroke-width:2.6"/>
<path d="M1088,-30 L1440,-30" style="stroke-width:2.6"/>
<path d="M1440,-30 L1440,1440" style="stroke-width:3.2"/>
<path d="M1100,0 L945,380 C940,410 938,430 940,445" style="stroke-width:2.2"/>
<path d="M1050,180 L1440,180 M975,365 L1440,365 M1075,1375 L1440,1375" style="stroke-width:2.4"/>
<path d="M1040,1160 L1440,1160" style="stroke-width:3.6"/>
<path d="M940,1050 L950,1140 L1020,1142" style="stroke-width:2"/>
<path d="M900,480 C880,520 850,545 810,545 L450,545 L430,590 L430,830 L450,870 L810,870 C850,870 880,895 900,940" style="stroke-width:2.6"/>
<path d="M460,625 L635,625 M460,790 L635,790 M815,560 L815,860" style="stroke-width:2.4"/>
<path d="M675,535 L675,880" style="stroke-width:7;stroke:#1a1a1a;stroke-linecap:round"/>
<path d="M430,595 L290,595 M430,820 L290,820 M295,595 L295,820" style="stroke-width:2.4"/>
<path d="M240,585 C215,585 215,600 215,620 L215,800 C215,830 225,835 240,835 C265,835 270,820 270,800 L270,620 C270,595 260,585 240,585Z" style="stroke-width:2.4"/>
<path d="M170,595 L215,595 L215,825 L170,825 C160,825 155,815 155,805 L155,615 C155,605 160,595 170,595Z" style="fill:#111;stroke-width:1.5"/>
</g>
<g transform="translate(905,1059.5)"><path d="M0,0 L55,0 C59,0.5 61.5,3 61.5,8 L61.5,75 C61.5,80 59,82.5 55,83 L0,83Z" fill="#fff" stroke="#111" stroke-width="1.6"/><rect x="0" y="0" width="54" height="83" fill="url(#kn)"/></g>
<path d="M960,1080 L1281,1080 M960,1121 L1281,1121" fill="none" stroke="#111" stroke-width="2"/>
<path d="M1289,1060 C1283,1060 1280,1064 1280,1069 L1280,1133 C1280,1138 1283,1142 1289,1142" fill="none" stroke="#111" stroke-width="1.8"/>
<rect x="1287" y="1059.5" width="56.3" height="83" fill="#0b0b0b"/>
<g transform="translate(1345,1059.5)"><rect x="0" y="0" width="56" height="83" rx="3" fill="#0b0b0b"/><rect x="1" y="0" width="54" height="83" fill="url(#kn)"/></g>
<g class="k" transform="translate(1168,1000) scale(0.2)">
<path d="M1165,335 L1188,340 C1200,350 1205,365 1205,380 L1205,640 C1205,655 1200,665 1188,670 L1165,675 M1165,400 L1205,395 M1165,610 L1205,615" style="stroke-width:1.7"/>
<g style="stroke-width:2.4">
<path d="M1215,400 L1235,600 M1235,398 L1255,602 M1255,398 L1275,605 M1275,400 L1295,600 M1295,405 L1305,580"/>
<path d="M1210,410 C1240,395 1270,395 1300,405 L1320,420 L1335,405 L1355,425 L1375,435 M1215,595 C1240,610 1270,610 1300,600 L1320,580 L1335,600 L1355,580 L1375,570"/>
</g>
<path d="M1210,410 L1210,595" style="stroke-width:1.2"/>
</g>
<!-- 60_pin -->
<g class="k" transform="translate(140,1370) scale(0.25)" style="stroke-width:2.1">
<path d="M110,90 C80,100 60,130 58,165 C58,195 70,215 90,220" style="stroke-width:2.3"/>
<path d="M110,90 L185,115 L195,110 L270,135 M90,220 L150,245 L215,268 M185,115 C160,140 145,190 150,245"/>
<path d="M270,135 C240,150 215,200 215,268" style="stroke-width:2.5"/>
<path d="M275,140 C250,160 230,210 235,270 M275,140 L350,170 L575,245 M235,270 L310,300 L525,375 M350,170 C325,190 305,250 310,300"/>
<path d="M575,245 C545,255 515,310 525,375" style="stroke-width:2.5"/>
<path d="M600,255 C570,265 540,320 548,378 M575,245 L600,255 L610,270 M525,375 L555,378 L575,370"/>
<path d="M600,270 L1305,525 M545,348 L1280,606 M570,372 L1290,620"/>
<ellipse cx="1300" cy="568" rx="30" ry="48" transform="rotate(15 1300 568)" style="stroke-width:2.3"/>
<ellipse cx="1300" cy="568" rx="11" ry="18" transform="rotate(15 1300 568)"/>
</g>
<!-- 61_bracket -->
<g class="k" transform="translate(505,1470) scale(0.1)" style="stroke-width:2">
<path d="M480,335 C350,340 200,430 130,600 C90,720 100,850 160,930 C180,980 200,1010 230,1040 L600,1210 L850,1305 C900,1320 950,1300 1000,1270" style="stroke-width:2.4"/>
<path d="M375,368 C260,440 185,620 180,780 C178,860 188,910 200,960 L590,1122"/>
<path d="M480,335 L700,385 C800,400 920,395 1010,365 L1100,338" style="stroke-width:2.4"/>
<path d="M835,508 C700,620 600,820 590,1000 C585,1100 610,1180 650,1232"/>
<path d="M1085,545 C940,560 780,760 740,1000 C720,1130 760,1260 860,1290 C980,1310 1120,1180 1190,980 C1230,850 1220,700 1180,620" style="stroke-width:2.4"/>
<path d="M1080,580 C950,600 810,780 775,1000 C755,1120 790,1230 870,1258 C975,1275 1100,1160 1165,975 C1200,860 1195,720 1160,650"/>
<path d="M705,388 C730,430 780,475 835,508 M840,495 L1020,430 M740,430 C830,440 930,440 1020,420 M870,512 L1185,650 M1075,480 L1100,545 L1150,560"/>
<path d="M1100,338 L1140,560 C1170,640 1240,800 1275,905 L1215,1000 C1190,1060 1150,1120 1100,1175" style="stroke-width:2.4"/>
<path d="M1150,365 C1165,480 1200,600 1235,700 L1250,880"/>
<path d="M1100,338 L1460,160" style="stroke-width:2.6"/>
<path d="M1170,355 L1460,210 M1235,355 L1295,595 M1268,342 L1328,580 M1240,672 C1270,630 1300,605 1330,585 L1460,528"/>
</g>
<g class="k" transform="translate(651,1470) scale(0.1)" style="stroke-width:2">
<path d="M0,160 C40,140 80,128 130,125 L260,128 C400,160 700,240 950,320 C1100,370 1200,440 1260,520 L1310,590 L1460,600" style="stroke-width:2.6"/>
<path d="M0,192 C60,162 100,152 150,150 L280,155 C450,190 700,262 940,342 C1080,392 1170,452 1225,525 L1285,605"/>
<path d="M100,260 C130,200 250,190 370,250 C480,310 530,420 500,520 C470,600 380,620 300,580 C180,520 80,380 100,260Z" style="stroke-width:3"/>
<path d="M330,200 C450,230 580,340 595,450 C600,500 570,540 530,560" style="stroke-width:3"/>
<path d="M28,205 L85,380 L105,470 M0,530 C50,500 90,485 120,482 L165,490 M530,572 L668,600"/>
<path d="M690,495 C680,560 720,680 790,745 L840,775 L880,760 M690,495 L790,462 C810,470 830,480 850,495 M700,560 C720,640 760,700 800,740 L840,775"/>
<path d="M740,480 C740,560 790,680 860,750" style="stroke-width:3.4"/>
<path d="M790,465 C800,560 850,680 910,730 M850,495 C870,560 900,660 920,730"/>
<path d="M800,470 C830,400 900,368 965,372 C1060,385 1140,480 1165,600 M915,728 L1100,692 L1160,655 L1165,600 M920,690 L1150,615"/>
<path d="M1100,692 L1250,762 L1185,490 M1205,485 L1260,680 L1290,810 C1300,830 1320,840 1345,835 L1460,822 M1262,682 L1320,645 L1460,628 M1215,500 L1230,520 M1245,540 L1265,565"/>
</g>
<g class="k" transform="translate(760,1500) scale(0.1)" style="stroke-width:2">
<path d="M370,300 L560,300 L620,330 L670,490 L570,670" style="stroke-width:2.6"/>
<path d="M215,345 C190,350 175,365 175,385 L200,525 C205,545 220,550 240,545 C330,520 430,530 490,572 L570,670" style="stroke-width:2.4"/>
<path d="M215,345 C300,322 420,332 470,382 C505,420 525,500 548,585 M520,335 L565,302 M520,335 C500,380 510,440 530,500 M535,500 L625,345 M548,585 L670,490 M350,330 L520,335"/>
</g>
<!-- 62_barrel -->
<g class="k" transform="translate(630,1560) scale(0.1)" style="stroke-width:2">
<path d="M425,115 C300,128 185,200 130,330 C90,430 88,520 110,572 L230,702 L325,738" style="stroke-width:2.4"/>
<path d="M335,165 C250,205 190,300 172,420 C162,500 170,560 192,605 M240,185 L335,165"/>
<path d="M450,130 C330,190 250,330 225,480 C215,580 235,670 270,720" style="stroke-width:5"/>
<path d="M500,150 C380,210 300,350 275,500 C265,600 285,690 325,738" style="stroke-width:4"/>
<path d="M425,115 L545,158 L600,138 L940,248" style="stroke-width:2.4"/>
<path d="M545,158 C450,215 370,335 340,472 C322,580 325,680 345,745"/>
<path d="M548,172 L778,245 L632,418 L395,335 M352,442 L592,522 C570,600 555,680 552,752 L342,692 M632,418 L592,522 M705,322 L830,338"/>
<path d="M325,738 L420,790 L700,908 C730,925 760,940 790,945" style="stroke-width:2.4"/>
<path d="M420,790 L580,852"/>
<ellipse cx="895" cy="598" rx="198" ry="352" transform="rotate(14 895 598)" style="stroke-width:4.5"/>
<ellipse cx="905" cy="605" rx="160" ry="312" transform="rotate(14 905 605)" style="stroke-width:1.8"/>
<path d="M1000,330 C1060,430 1050,600 990,740 C950,820 890,880 830,900" style="stroke-width:4"/>
<path d="M950,340 C1000,440 990,600 930,730 C895,800 850,850 790,870" style="stroke-width:4"/>
<path d="M890,350 C940,450 925,590 870,710 C840,770 800,810 760,830" style="stroke-width:4"/>
<path d="M840,400 C870,480 850,600 800,700 C780,740 760,770 735,790" style="stroke-width:2.5"/>
</g>
<!-- 63_screw -->
<g class="k" transform="translate(765,1625) scale(0.0548)" style="stroke-width:1.8">
<path d="M230,270 C190,290 170,350 180,410 L200,450 L640,620 L720,400 L300,270Z" style="fill:#111;stroke-width:2"/>
<path d="M930,238 C850,250 770,320 720,420 C660,540 620,680 650,780 C670,830 700,860 740,880 L920,965 M930,238 L1085,295" style="stroke-width:1.9"/>
<ellipse cx="1030" cy="628" rx="198" ry="338" transform="rotate(14 1030 628)" style="stroke-width:2"/>
<path d="M800,335 L900,390 M900,390 C850,470 810,600 810,720 C812,800 830,870 860,920"/>
<ellipse cx="1030" cy="630" rx="72" ry="125" transform="rotate(14 1030 630)" style="fill:#111;stroke-width:1.5"/>
<circle cx="1010" cy="640" r="18" style="fill:#ddd;stroke:none"/>
</g>
<!-- 64_bolt2 -->
<g class="k" transform="translate(960,1410) scale(0.1)">
<ellipse cx="520" cy="350" rx="235" ry="150" transform="rotate(-10 520 350)" style="stroke-width:2.6"/>
<path d="M290,410 C300,480 400,525 520,512 C640,500 740,440 760,370 M292,430 C320,520 420,580 540,565 C660,550 745,480 758,400" style="stroke-width:2.2"/>
<ellipse cx="505" cy="322" rx="130" ry="86" transform="rotate(-8 505 322)" style="fill:#111;stroke-width:2.2"/>
<g style="stroke:#fff;stroke-width:1.6"><path d="M440,300 L450,340 M490,270 L500,300 M550,275 L545,305 M585,300 L570,330 M430,345 L450,360 M510,330 L520,360"/></g>
<path d="M600,385 L690,445 M690,445 L700,500" style="stroke-width:1.8"/>
<path d="M480,590 L540,760 M690,500 L740,700 M640,560 L680,720" style="stroke-width:2"/>
<path d="M530,762 C600,770 680,740 740,700 L800,950 C790,1000 740,1040 690,1050 C650,1050 620,1035 600,1000Z" style="fill:#111;stroke-width:2"/>
<g style="stroke:#fff;stroke-width:0.9"><path d="M560,810 C620,815 690,790 745,755 M572,855 C640,860 705,835 758,800 M585,900 C650,905 720,880 770,845 M597,945 C660,950 730,925 782,890 M610,990 C670,995 740,970 790,935"/></g>
</g>
<!-- 65_nut -->
<g class="k" transform="translate(960,1410) scale(0.1)">
<ellipse cx="850" cy="1400" rx="228" ry="150" transform="rotate(-8 850 1400)" style="stroke-width:2.4"/>
<ellipse cx="850" cy="1398" rx="190" ry="122" transform="rotate(-8 850 1398)"/>
<ellipse cx="850" cy="1395" rx="140" ry="86" transform="rotate(-8 850 1395)" style="stroke-width:4.6"/>
<path d="M625,1440 L665,1620 C720,1700 860,1720 960,1680 C1040,1650 1100,1580 1110,1500 L1075,1385" style="stroke-width:2.2"/>
<path d="M655,1555 L695,1645 M640,1470 C700,1560 860,1590 980,1540 C1030,1515 1065,1470 1078,1420" style="stroke-width:2.6"/>
</g>
<!-- 70_greybody -->
<g class="g" transform="translate(850,1590) scale(0.2)">
<!-- left thread end -->
<path d="M135,305 C80,320 35,400 30,480 C30,550 60,600 100,615 M150,308 C98,325 55,400 50,480 C50,545 75,595 112,610 M165,312 C115,330 72,405 68,480 C68,540 90,590 125,605 M180,314 C130,335 90,410 86,480 C86,535 105,585 138,600 M135,305 L185,315" style="stroke-width:2.2"/>
<path d="M185,315 C140,380 100,480 100,580 C100,620 115,650 140,665 L1200,1040" style="stroke-width:2.2"/>
<path d="M185,315 L240,265 L290,225 L280,185 L330,170 L440,95 C470,80 500,75 540,78 L650,95 L900,160 L1020,228" style="stroke-width:2.2"/>
<path d="M240,268 L1190,615 M345,215 L915,395 M295,222 L345,212 L500,150 C540,142 600,150 640,150 L880,172 L905,185 L950,255 M905,185 L965,255 M440,95 L470,150 M530,80 L560,145 M650,95 L610,150 M330,170 L345,212"/>
<!-- eyelet -->
<ellipse cx="1085" cy="345" rx="168" ry="122" transform="rotate(-8 1085 345)" style="stroke-width:2.2"/>
<ellipse cx="1085" cy="345" rx="158" ry="113" transform="rotate(-8 1085 345)"/>
<ellipse cx="1090" cy="340" rx="125" ry="85" transform="rotate(-8 1090 340)"/>
<ellipse cx="1090" cy="340" rx="115" ry="77" transform="rotate(-8 1090 340)"/>
<ellipse cx="1100" cy="385" rx="75" ry="42"/>
<ellipse cx="1102" cy="390" rx="52" ry="27"/>
<ellipse cx="1104" cy="393" rx="34" ry="16"/>
<path d="M1020,300 L1040,390 M1030,410 L1060,440 M1170,400 L1150,430"/>
<!-- lower right bracket -->
<path d="M1100,450 C1130,520 1170,590 1220,640 M1130,450 L1240,440 L1255,462 L1200,480 L1330,640 M1255,462 L1410,690 M1140,470 C1160,540 1200,600 1250,640 L1380,655 M1100,450 L1130,450 M1160,455 L1170,470 L1230,462"/>
<!-- front cylinder end -->
<path d="M1200,1040 C1150,980 1160,880 1220,800 C1280,720 1380,690 1460,700 C1520,710 1560,760 1570,820 C1575,880 1550,930 1500,960" style="stroke-width:2.2"/>
<path d="M1180,990 C1170,900 1230,790 1380,730 M1230,1000 C1190,940 1210,860 1260,790 C1310,730 1390,710 1440,715 M1200,1040 C1280,1060 1380,1040 1460,1000 M1230,1000 C1300,1020 1400,1000 1470,960"/>
<ellipse cx="1305" cy="840" rx="62" ry="98" transform="rotate(18 1305 840)"/>
<ellipse cx="1305" cy="840" rx="48" ry="80" transform="rotate(18 1305 840)"/>
<path d="M1285,780 L1330,790 L1340,830 L1300,850 L1290,900 L1265,880 L1275,830Z M1300,850 L1340,830 M1275,830 L1300,850"/>
</g>
<g class="g" transform="translate(1060,1590) scale(0.2)">
<path d="M198,300 L250,415 C255,450 245,480 225,500"/>
<path d="M270,385 L280,375 L400,390 C460,385 510,350 540,310 L600,250 L630,235 L650,240 L850,420 L950,530 L1005,610 L1000,640 C960,700 880,800 780,870 C650,950 400,1030 200,1050 C150,1050 120,1030 100,1000" style="stroke-width:2.2"/>
<path d="M630,237 L600,262 L850,548 L870,572 M545,318 L745,600 M400,392 L572,655 M950,530 L850,548 C800,560 760,600 745,625 C700,680 640,700 600,720 M870,572 C830,590 790,640 770,665 C740,700 680,730 620,742"/>
<path d="M272,388 L248,470 L300,520 C380,560 440,620 470,660 L545,770 L625,742 C760,700 900,650 1003,612 M520,792 L545,772 M520,792 C700,742 880,690 1000,640"/>
<path d="M265,540 L305,625 L440,718 L475,700 L482,650 L395,578 L300,560 M330,590 L380,575 L460,640 L440,660 M300,575 L330,640 M225,500 L290,600 L330,640"/>
<ellipse cx="745" cy="335" rx="52" ry="24" transform="rotate(42 745 335)"/>
<ellipse cx="750" cy="340" rx="40" ry="15" transform="rotate(42 750 340)"/>
<ellipse cx="875" cy="478" rx="72" ry="34" transform="rotate(42 875 478)" style="stroke-width:2.2"/>
<ellipse cx="875" cy="478" rx="62" ry="27" transform="rotate(42 875 478)"/>
<ellipse cx="875" cy="478" rx="52" ry="20" transform="rotate(42 875 478)"/>
<ellipse cx="875" cy="478" rx="42" ry="13" transform="rotate(42 875 478)"/>
<path d="M850,420 L800,440 M950,530 L930,560"/>
</g>
<!-- 71_lever2 -->
<g class="k" transform="translate(1090,1810) scale(0.1)">
<path d="M135,480 L255,790 C350,880 600,840 690,650 L600,370Z" style="fill:#fff;stroke-width:2.2"/>
<ellipse cx="365" cy="375" rx="242" ry="165" transform="rotate(-10 365 375)" style="fill:#0b0b0b;stroke-width:1.5"/>
<ellipse cx="360" cy="385" rx="85" ry="60" transform="rotate(-10 360 385)" style="fill:#3a3a3a;stroke:none"/>
<path d="M300,375 C340,350 400,345 430,355 M305,405 C345,385 400,380 435,390 M320,430 C350,415 390,410 420,415" style="stroke:#111;stroke-width:1"/>
<path d="M180,640 C130,700 150,780 210,835 C310,920 480,920 600,850 C720,770 780,650 735,555 L680,510" style="stroke-width:2.2"/>
<path d="M760,570 C810,590 840,640 835,700 C825,770 790,830 740,865" style="stroke-width:2"/>
<path d="M150,720 L200,950 C260,1080 400,1130 500,1120 C600,1110 680,1080 740,1080 L820,1090 L1460,1195" style="stroke-width:2.6"/>
<path d="M740,555 L1460,715" style="stroke-width:2.8"/>
<path d="M760,590 L1460,745" style="stroke-width:1"/>
<path d="M535,942 L575,1092 M535,942 L600,870 L640,900 L740,865 M680,810 L720,850 M620,860 L660,830 M540,945 L770,932 L1460,1020 M740,868 L790,872 L1460,942 M775,880 L772,940 L822,1090" style="stroke-width:1.9"/>
</g>
<g class="k" transform="translate(1168,1790) scale(0.2)">
<path d="M340,462 L700,558 L820,595 L880,605 C950,590 1100,565 1190,560 C1240,560 1270,580 1290,610 L1400,760 C1415,790 1410,820 1390,850 L1170,985" style="stroke-width:2.6"/>
<path d="M340,698 L640,740 C720,750 780,790 830,840 C880,900 950,945 1040,965 L1170,985" style="stroke-width:2.6"/>
<path d="M340,575 L620,605 L642,735 M340,607 L612,636 M620,605 L705,565 M635,618 L740,628 C770,640 790,655 810,658 L860,655 M660,645 L740,660 M822,597 L795,660 L782,792 M860,655 L838,845 M880,605 L870,680" style="stroke-width:1.7"/>
<path d="M885,642 L1190,600 C1230,605 1260,625 1280,655 L1385,795 M875,685 L1195,635 C1225,640 1250,660 1270,690 L1370,810 C1375,830 1370,845 1355,855 L1165,970 M1190,562 L1195,635 M1300,650 L1270,690 M1400,770 L1370,810 M1040,965 L1160,968" style="stroke-width:1.7"/>
</g>
</svg>
</body></html>
